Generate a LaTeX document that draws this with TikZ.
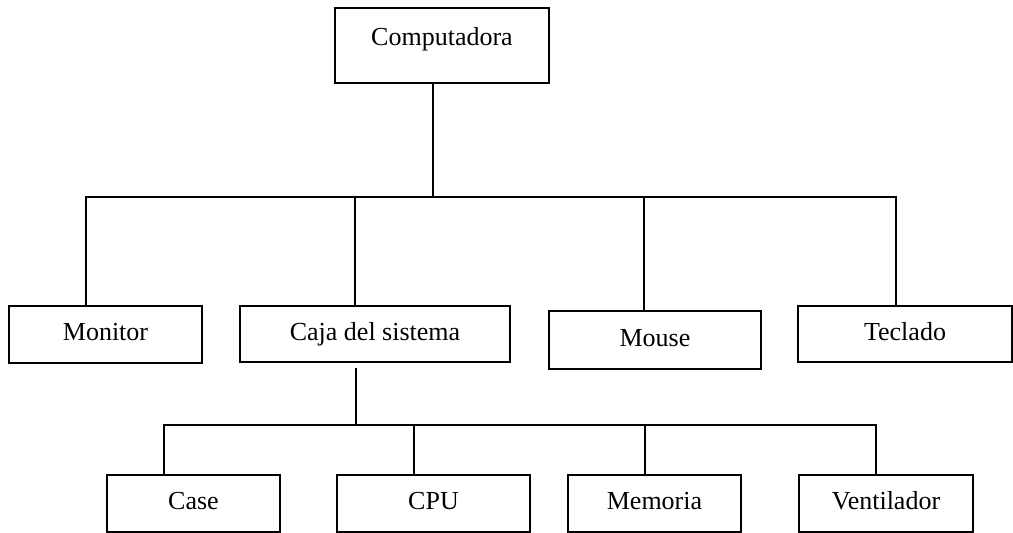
\documentclass[tikz,border=0pt]{standalone}
\usepackage{fontspec}
\setmainfont{Liberation Serif}
\usepackage{tikz}

\begin{document}
\begin{tikzpicture}[
    x=1pt, y=-1pt,
    every node/.style={font=\fontsize{26}{30}\selectfont},
    box/.style={rectangle, draw, line width=1.4pt, inner sep=0pt, outer sep=0pt, text height=18pt, text depth=6pt, align=center},
    link/.style={line width=1.2pt}
]
    \useasboundingbox (0,0) rectangle (1013,533);

    \node (comp) [box, minimum width=214, minimum height=75] at (442,45.5) {\raisebox{6pt}{Computadora}};

    \node (monitor) [box, minimum width=193, minimum height=57] at (105.5,334.5) {Monitor};
    \node (caja) [box, minimum width=270, minimum height=56] at (375,334) {Caja del sistema};
    \node (mouse) [box, minimum width=212, minimum height=58] at (655,340) {Mouse};
    \node (teclado) [box, minimum width=214, minimum height=56] at (905,334) {Teclado};

    \node (case) [box, minimum width=173, minimum height=57] at (193.5,503.5) {Case};
    \node (cpu) [box, minimum width=193, minimum height=57] at (433.5,503.5) {CPU};
    \node (memoria) [box, minimum width=173, minimum height=57] at (654.5,503.5) {Memoria};
    \node (ventilador) [box, minimum width=174, minimum height=57] at (886,503.5) {Ventilador};

    \draw [link] ([xshift=-9pt]comp.south) -- ++(0,114);
    \draw [link] ([xshift=-19.5pt]monitor.north) -- ++(0,-109) -| ([xshift=-9pt]teclado.north);
    \draw [link] ([xshift=-20pt]caja.north) -- ++(0,-109);
    \draw [link] ([xshift=-11pt]mouse.north) -- ++(0,-114);

    \draw [link] ([xshift=-19pt, yshift=-6pt]caja.south) -- ++(0,57);
    \draw [link] ([xshift=-29.5pt]case.north) -- ++(0,-50) -| ([xshift=-10pt]ventilador.north);
    \draw [link] ([xshift=-19.5pt]cpu.north) -- ++(0,-50);
    \draw [link] ([xshift=-9.5pt]memoria.north) -- ++(0,-50);
\end{tikzpicture}
\end{document}
